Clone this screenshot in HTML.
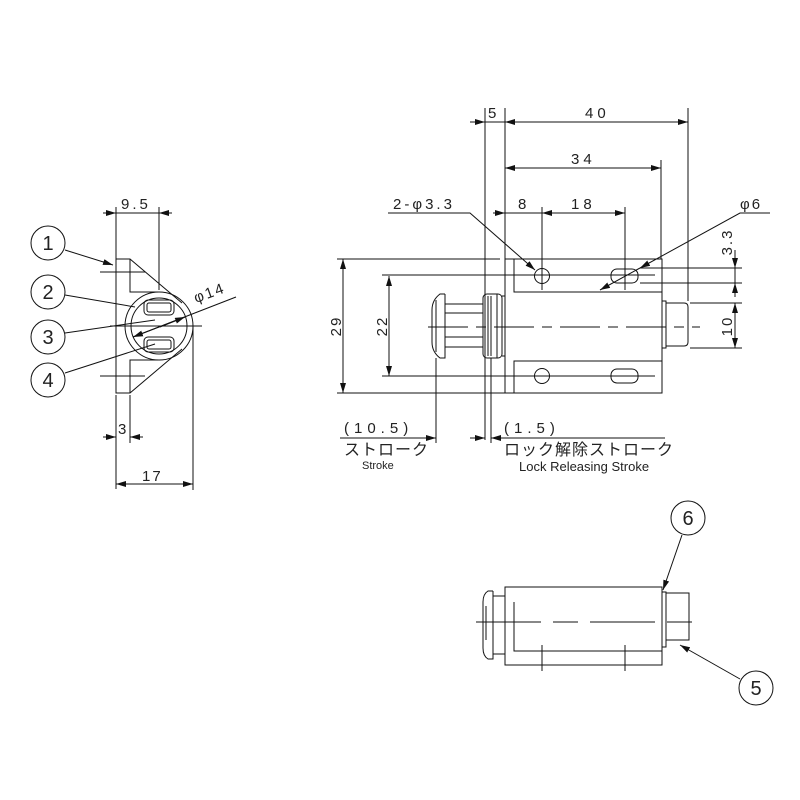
<!DOCTYPE html>
<html><head><meta charset="utf-8"><style>
body{margin:0;background:#fff}
svg{display:block}
text{font-family:"Liberation Sans","Noto Sans CJK JP",sans-serif;fill:#222}
</style></head><body>
<svg width="800" height="800" viewBox="0 0 800 800" xmlns="http://www.w3.org/2000/svg">
<defs>
<marker id="a" viewBox="0 0 10 6" refX="10" refY="3" markerWidth="10" markerHeight="6" orient="auto-start-reverse" markerUnits="userSpaceOnUse"><path d="M0,0L10,3L0,6z" fill="#111"/></marker>
</defs>
<g stroke="#111" stroke-width="1" fill="none">
<!-- LEFT VIEW -->
<path d="M116,259H130L182,303M116,259V393H130L182,349M130,259V292H158M130,393V360H158"/>
<circle cx="159" cy="326" r="34"/>
<circle cx="159" cy="326" r="28"/>
<rect x="144" y="300" width="30" height="15" rx="4"/>
<rect x="147" y="303" width="24" height="9" rx="2"/>
<rect x="144" y="337" width="30" height="15" rx="4"/>
<rect x="147" y="340" width="24" height="9" rx="2"/>
<path d="M110,326H202M100,272H145M100,376H145"/>
<path d="M116,207V259M159,207V290M116,395V489M130,395V443M193,326V490"/>
<path d="M103,213H116" marker-end="url(#a)"/><path d="M172,213H159" marker-end="url(#a)"/><path d="M116,213H159"/>
<path d="M103,437H116" marker-end="url(#a)"/><path d="M143,437H130" marker-end="url(#a)"/>
<path d="M116,484H193" marker-start="url(#a)" marker-end="url(#a)"/>
<path d="M133,337L236,297" /><path d="M185,317L133,337" marker-end="url(#a)"/><path d="M160,327L185,317" marker-end="url(#a)"/>
<circle cx="48" cy="243" r="17"/><circle cx="48" cy="292" r="17"/><circle cx="48" cy="337" r="17"/><circle cx="48" cy="380" r="17"/>
<path d="M65,250L113,265" marker-end="url(#a)"/>
<path d="M65,295L135,307"/><path d="M65,333L155,320"/><path d="M65,373L155,344"/>
<!-- FRONT VIEW -->
<rect x="505" y="259" width="157" height="134"/>
<path d="M514,259V292H662M514,393V361H662"/>
<circle cx="542" cy="276" r="7.5"/><circle cx="542" cy="376" r="7.5"/>
<rect x="611" y="269" width="27" height="14" rx="6"/><rect x="611" y="369" width="27" height="14" rx="6"/>
<rect x="662" y="301" width="4" height="47"/>
<path d="M666,303H684Q688,303 688,307V342Q688,346 684,346H666"/>
<rect x="483" y="294" width="19" height="64" rx="4"/>
<path d="M488,296V356M491,296V356M497,294V358"/>
<path d="M502,296H505M502,356H505"/>
<path d="M445,294H440Q432,300 432,310V342Q432,352 440,358H445V294M436,300V352"/>
<path d="M445,304H483M445,313H483M445,337H483M445,347H483"/>
<path d="M428,327H700" stroke-dasharray="40,8,10,8"/>
<path d="M485,108V440M505,108V259M688,108V301M661,160V259M542,207V290M625,207V290M436,358V443M491,358V443"/>
<path d="M470,122H485" marker-end="url(#a)"/><path d="M485,122H505"/>
<path d="M505,122H688" marker-start="url(#a)" marker-end="url(#a)"/>
<path d="M505,168H661" marker-start="url(#a)" marker-end="url(#a)"/>
<path d="M493,213H505" marker-end="url(#a)"/><path d="M505,213H542"/>
<path d="M542,213H625" marker-start="url(#a)" marker-end="url(#a)"/>
<path d="M388,213H470L535,270" marker-end="url(#a)"/>
<path d="M770,213H740L640,268" marker-end="url(#a)"/><path d="M640,268L600,290" marker-end="url(#a)"/>
<path d="M337,259H500M337,393H505M382,275H655M382,376H655"/>
<path d="M343,259V393" marker-start="url(#a)" marker-end="url(#a)"/>
<path d="M389,276V376" marker-start="url(#a)" marker-end="url(#a)"/>
<path d="M640,268H742M640,283H742M690,303H742M690,348H742"/>
<path d="M735,250V268" marker-end="url(#a)"/><path d="M735,297V283" marker-end="url(#a)"/><path d="M735,268V283"/>
<path d="M735,303V348" marker-start="url(#a)" marker-end="url(#a)"/>
<path d="M340,438H436" /><path d="M420,438H436" marker-end="url(#a)"/>
<path d="M470,438H485" marker-end="url(#a)"/>
<path d="M505,438H491" marker-end="url(#a)"/><path d="M505,438H665"/>
<!-- BOTTOM VIEW -->
<rect x="505" y="587" width="157" height="78"/>
<path d="M514,602V651H662"/>
<rect x="662" y="592" width="4" height="55"/>
<path d="M666,593H689V640H666"/>
<rect x="493" y="596" width="12" height="58"/>
<path d="M493,591H488Q483,594 483,602V648Q483,656 488,659H493V591M486,606V640"/>
<path d="M476,622H698" stroke-dasharray="65,12,25,12"/>
<path d="M542,645V671M625,645V671"/>
<circle cx="688" cy="518" r="17"/><circle cx="756" cy="688" r="17"/>
<path d="M682,535L663,590" marker-end="url(#a)"/>
<path d="M740,679L680,645" marker-end="url(#a)"/>
</g>
<g font-size="15">
<text x="121" y="209" letter-spacing="3">9.5</text>
<text x="118" y="434">3</text>
<text x="142" y="481" letter-spacing="2">17</text>
<text x="196" y="303" transform="rotate(-20 196 303)" letter-spacing="2">φ14</text>
<text x="48" y="250" font-size="20" text-anchor="middle">1</text>
<text x="48" y="299" font-size="20" text-anchor="middle">2</text>
<text x="48" y="344" font-size="20" text-anchor="middle">3</text>
<text x="48" y="387" font-size="20" text-anchor="middle">4</text>
<text x="488" y="118">5</text>
<text x="585" y="118" letter-spacing="4">40</text>
<text x="571" y="164" letter-spacing="4">34</text>
<text x="518" y="209">8</text>
<text x="571" y="209" letter-spacing="4">18</text>
<text x="393" y="209" letter-spacing="3">2-φ3.3</text>
<text x="740" y="209" letter-spacing="2">φ6</text>
<text transform="translate(341,326) rotate(-90)" text-anchor="middle" letter-spacing="2">29</text>
<text transform="translate(387,326) rotate(-90)" text-anchor="middle" letter-spacing="2">22</text>
<text transform="translate(732,242) rotate(-90)" text-anchor="middle" letter-spacing="2">3.3</text>
<text transform="translate(732,326) rotate(-90)" text-anchor="middle" letter-spacing="2">10</text>
<text x="344" y="433" letter-spacing="5">(10.5)</text>
<text x="504" y="433" letter-spacing="5">(1.5)</text>
<text x="344" y="455" font-size="16" letter-spacing="1">ストローク</text>
<text x="504" y="455" font-size="16" letter-spacing="1">ロック解除ストローク</text>
<text x="362" y="469" font-size="11">Stroke</text>
<text x="519" y="471" font-size="13">Lock Releasing Stroke</text>
<text x="688" y="525" font-size="20" text-anchor="middle">6</text>
<text x="756" y="695" font-size="20" text-anchor="middle">5</text>
</g>
</svg>
</body></html>
